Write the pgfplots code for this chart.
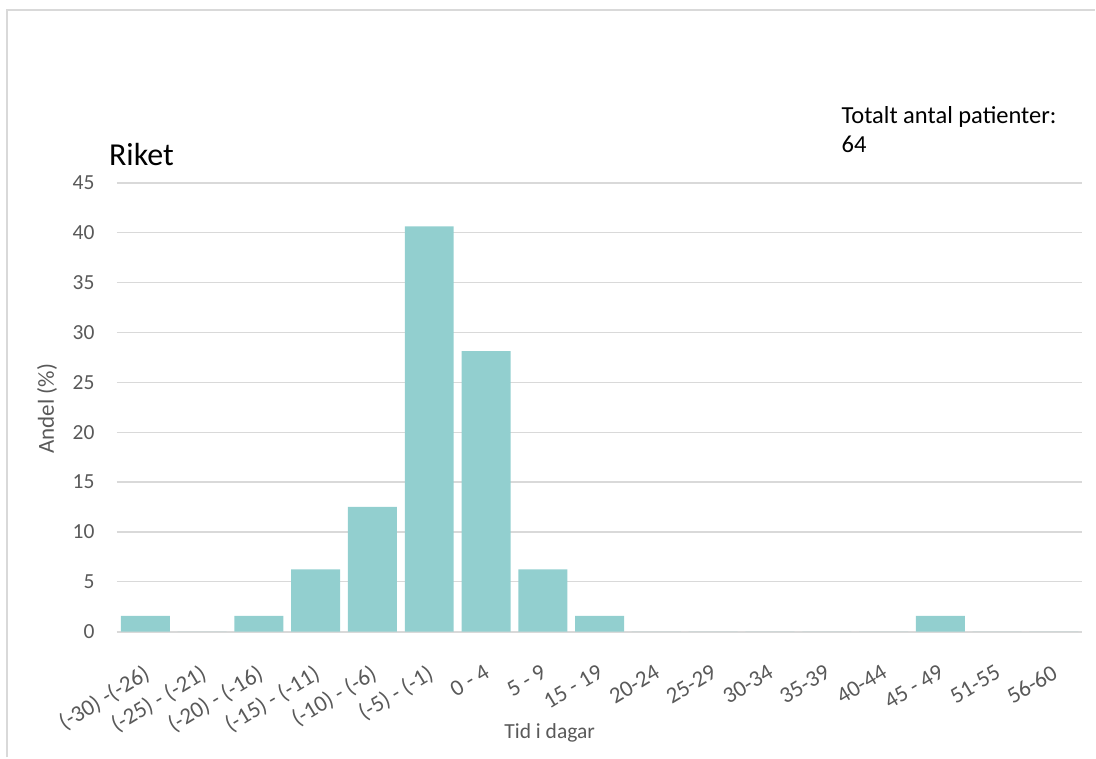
\documentclass[border=0pt]{standalone}
\usepackage{pgfplots}
\pgfplotsset{compat=1.18}
\usepackage{fontspec}
\setmainfont{Carlito}
\definecolor{barc}{HTML}{92CFCF}
\definecolor{gridc}{HTML}{D9D9D9}
\definecolor{txt}{HTML}{595959}
\definecolor{framec}{HTML}{D9D9D9}
\begin{document}
\begin{tikzpicture}
\path (0pt,0pt) rectangle (1096pt,758pt);
\draw[framec, line width=1.5pt] (7pt,0pt) -- (7pt,748pt) -- (1096pt,748pt);
\begin{axis}[
  at={(117pt,126pt)}, anchor=south west,
  scale only axis, width=966pt, height=449pt,
  ybar, bar width=49pt,
  xmin=-0.5, xmax=16.5, ymin=0, ymax=45,
  ytick={0,5,...,45},
  xtick={0,...,16},
  xticklabels={{(-30) -(-26)},{(-25) - (-21)},{(-20) - (-16)},{(-15) - (-11)},{(-10) - (-6)},{(-5) - (-1)},{0 - 4},{5 - 9},{15 - 19},{20-24},{25-29},{30-34},{35-39},{40-44},{45 - 49},{51-55},{56-60}},
  xticklabel style={rotate=31, anchor=north east, font=\fontsize{23}{26}\selectfont, text=txt, inner sep=0pt, yshift=-26pt, xshift=-19pt},
  yticklabel style={font=\fontsize{21.5}{26}\selectfont, text=txt, anchor=east, xshift=-19pt},
  /pgf/number format/assume math mode=true,
  major tick length=0pt,
  ymajorgrids, grid style={gridc, line width=1.3pt},
  axis x line*=bottom, axis y line*=left,
  x axis line style={gridc, line width=2pt},
  y axis line style={draw=none},
  enlargelimits=false,
  clip=false,
]
\addplot[fill=barc, draw=none] coordinates {
(0,1.5625) (1,0) (2,1.5625) (3,6.25) (4,12.5) (5,40.625) (6,28.125) (7,6.25) (8,1.5625) (9,0) (10,0) (11,0) (12,0) (13,0) (14,1.5625) (15,0) (16,0)};
\end{axis}
\node[anchor=base west, font=\fontsize{32}{36}\selectfont, inner sep=0pt] at (109pt,592pt) {Riket};
\node[anchor=base west, font=\fontsize{24.5}{28}\selectfont, inner sep=0pt] at (842pt,634pt) {Totalt antal patienter:};
\node[anchor=base west, font=\fontsize{24.5}{28}\selectfont, inner sep=0pt] at (842pt,605pt) {64};
\node[font=\fontsize{23}{27}\selectfont, text=txt, rotate=90] at (47pt,349pt) {Andel (\%)};
\node[font=\fontsize{21.5}{26}\selectfont, text=txt] at (550pt,25pt) {Tid i dagar};
\end{tikzpicture}
\end{document}
